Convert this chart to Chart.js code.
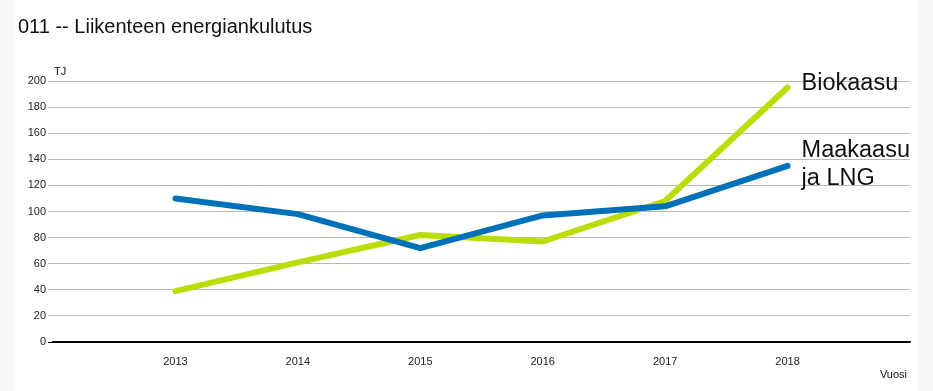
<!DOCTYPE html>
<html>
<head>
<meta charset="utf-8">
<script src="https://cdn.jsdelivr.net/npm/chart.js@4"></script>
<style>
	body{margin:0;background:#f7f8f8;font-family:"Liberation Sans",Arial,sans-serif;}
	#wrap{position:relative;width:933px;height:391px;}
	#panel{position:absolute;left:15px;top:0;width:903px;height:391px;background:#fff;}
	#chart{position:absolute;left:0;top:0;}
	.txt{position:absolute;color:#111;white-space:nowrap;}
	#title{left:18px;top:15px;font-size:20px;}
	#unit{left:54px;top:65px;font-size:11px;}
	#xname{right:26px;top:368px;font-size:11px;}
</style>
</head>
<body>
<div id="wrap">
	<div id="panel"></div>
	<canvas id="chart" width="933" height="391"></canvas>
	<div class="txt" id="title">011 -- Liikenteen energiankulutus</div>
	<div class="txt" id="unit">TJ</div>
	<div class="txt" id="xname">Vuosi</div>
</div>
<script>
// data
const years = [2013, 2014, 2015, 2016, 2017, 2018];
const maakaasu = [110, 98, 72, 97, 104, 135];
const biokaasu = [39, 61, 82, 77, 108, 195];
const yTicks = [0, 20, 40, 60, 80, 100, 120, 140, 160, 180, 200];

const BLUE = '#0071b9';
const GREEN = '#bbdd07';

function toPoints(vals){
	return years.map((y,i)=>({x:y, y:vals[i]}));
}

// end-of-line labels, placed from the last point of each dataset
const endLabels = {
	id:'endLabels',
	afterDatasetsDraw(chart){
		const ctx = chart.ctx;
		ctx.save();
		ctx.font = '23.5px "Liberation Sans", Arial, sans-serif';
		ctx.fillStyle = '#111';
		ctx.textBaseline = 'middle';
		chart.data.datasets.forEach((ds,i)=>{
			const meta = chart.getDatasetMeta(i);
			const p = meta.data[meta.data.length-1];
			const lines = ds.endLabel;
			const start = p.y + (lines.length===1 ? -4 : -15);
			lines.forEach((t,k)=>ctx.fillText(t, p.x + 14, start + k*28));
		});
		ctx.restore();
	}
};

new Chart(document.getElementById('chart'), {
	type:'line',
	data:{
		datasets:[
			{label:'Maakaasu ja LNG', endLabel:['Maakaasu','ja LNG'], data:toPoints(maakaasu), borderColor:BLUE, borderWidth:6, pointRadius:0, borderCapStyle:'round', borderJoinStyle:'round', tension:0},
			{label:'Biokaasu', endLabel:['Biokaasu'], data:toPoints(biokaasu), borderColor:GREEN, borderWidth:6, pointRadius:0, borderCapStyle:'round', borderJoinStyle:'round', tension:0}
		]
	},
	options:{
		responsive:false,
		animation:false,
		layout:{padding:{left:0, top:81, right:23, bottom:0}},
		plugins:{legend:{display:false}, tooltip:{enabled:false}},
		scales:{
			x:{
				type:'linear', min:2012, max:2019,
				afterBuildTicks(axis){ axis.ticks = years.map(v=>({value:v})); },
				afterFit(axis){ axis.height = 49; },
				grid:{display:false},
				border:{color:'#000', width:1.5},
				ticks:{color:'#222', font:{size:11, family:'"Liberation Sans", Arial, sans-serif'}, padding:5, callback:v=>String(v)}
			},
			y:{
				min:0, max:200,
				afterBuildTicks(axis){ axis.ticks = yTicks.map(v=>({value:v})); },
				afterFit(axis){ axis.width = 53; },
				border:{display:false},
				grid:{color:c=>c.tick && c.tick.value===0 ? '#000' : '#b9b9b9', lineWidth:1, tickLength:5},
				ticks:{color:'#222', font:{size:11, family:'"Liberation Sans", Arial, sans-serif'}, padding:2}
			}
		}
	},
	plugins:[endLabels]
});
</script>
</body>
</html>
